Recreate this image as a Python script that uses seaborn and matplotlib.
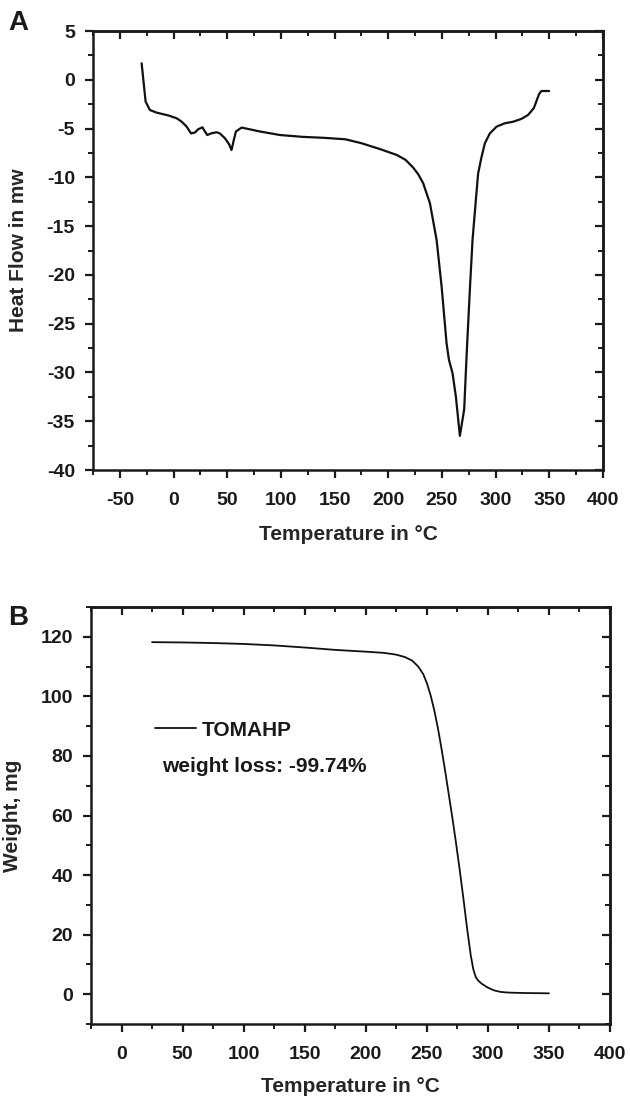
import numpy as np
import pandas as pd
import matplotlib
matplotlib.use("Agg")
import matplotlib.pyplot as plt
import seaborn as sns
from matplotlib.ticker import MultipleLocator
from matplotlib.lines import Line2D

# ---- Panel A: DSC ----
dsc_temp = [-29.7, -26, -22, -15.7, -5, 3, 7.6, 12.2, 16.3, 20, 23, 27, 28.3, 31.4,
            35.5, 40.1, 43.2, 47.9, 51.6, 54, 56.3, 58.1, 63.4, 80.5, 99, 120, 140,
            160, 175, 192.2, 207.8, 216, 223.2, 228, 232.5, 238.8, 245, 249.7, 254.3,
            256.5, 259.9, 263, 266.7, 270.7, 272.9, 276, 278.5, 281.6, 283.7, 286.9,
            290, 294.6, 300.9, 308.6, 316.3, 324.2, 330.3, 335.6, 340.5, 342.7, 349.8]
dsc_heat = [1.69, -2.24, -3.1, -3.37, -3.65, -3.95, -4.3, -4.8, -5.5, -5.4, -5.07,
            -4.87, -5.14, -5.66, -5.48, -5.38, -5.5, -6.0, -6.58, -7.2, -6.1, -5.3,
            -4.9, -5.3, -5.66, -5.85, -5.95, -6.1, -6.5, -7.1, -7.7, -8.2, -9.0, -9.7,
            -10.6, -12.65, -16.4, -21.2, -27.0, -28.7, -30.1, -32.5, -36.5, -33.8,
            -28.4, -21.5, -16.4, -12.3, -9.6, -7.9, -6.5, -5.5, -4.8, -4.46, -4.3,
            -4.0, -3.6, -2.9, -1.45, -1.15, -1.15]

# ---- Panel B: TGA ----
tga_temp = [25, 50, 75, 100, 125, 150, 175, 200, 215, 225, 232, 238, 243, 247, 250,
            253, 256, 259, 262, 265, 268, 271, 274, 277, 280, 283, 286, 288, 290, 292,
            295, 300, 305, 310, 315, 320, 330, 340, 350]
tga_weight = [118.2, 118.1, 117.9, 117.6, 117.1, 116.4, 115.6, 115.0, 114.6, 114.0,
              113.2, 112.0, 110.0, 107.5, 104.5, 100.5, 95.5, 89.5, 82.5, 75, 67, 59,
              50.5, 41.5, 32, 22, 13, 8.5, 5.8, 4.6, 3.5, 2.2, 1.3, 0.8, 0.6, 0.5, 0.4,
              0.35, 0.3]
series_name = "TOMAHP"
annotation = "weight loss: -99.74%"

dfA = pd.DataFrame({"temp": dsc_temp, "heat": dsc_heat})
dfB = pd.DataFrame({"temp": tga_temp, "weight": tga_weight})

sns.set_style("ticks")
plt.rcParams.update({
    "font.family": ["Liberation Sans", "DejaVu Sans"],
    "font.weight": "bold",
    "axes.labelweight": "bold",
    "axes.linewidth": 1.8,
    "axes.unicode_minus": False,
    "axes.edgecolor": "#1a1a1a",
    "xtick.color": "#1a1a1a",
    "ytick.color": "#1a1a1a",
    "text.color": "#1a1a1a",
})

W, H = 630, 1099
fig = plt.figure(figsize=(W / 100, H / 100), dpi=100)


def rect(l, t, r, b):
    return [l / W, 1 - b / H, (r - l) / W, (b - t) / H]


def style_axes(ax, xmaj, xmin, ymaj, ymin):
    ax.xaxis.set_major_locator(MultipleLocator(xmaj))
    ax.xaxis.set_minor_locator(MultipleLocator(xmin))
    ax.yaxis.set_major_locator(MultipleLocator(ymaj))
    ax.yaxis.set_minor_locator(MultipleLocator(ymin))
    ax.tick_params(which="major", direction="out", length=6, width=1.6,
                   labelsize=14)
    ax.tick_params(axis="x", which="major", pad=10)
    ax.tick_params(axis="y", which="major", pad=7)
    ax.tick_params(which="minor", direction="out", length=3.5, width=1.4)
    for sp in ax.spines.values():
        sp.set_visible(True)
        sp.set_linewidth(1.8)
    top = ax.secondary_xaxis("top")
    top.xaxis.set_major_locator(MultipleLocator(xmaj))
    top.xaxis.set_minor_locator(MultipleLocator(xmin))
    top.tick_params(which="major", direction="in", length=6, width=1.6, labeltop=False)
    top.tick_params(which="minor", direction="in", length=3.5, width=1.4)
    right = ax.secondary_yaxis("right")
    right.yaxis.set_major_locator(MultipleLocator(ymaj))
    right.yaxis.set_minor_locator(MultipleLocator(ymin))
    right.tick_params(which="major", direction="in", length=6, width=1.6, labelright=False)
    right.tick_params(which="minor", direction="in", length=3.5, width=1.4)


# Panel A
axA = fig.add_axes(rect(93, 31, 603, 470))
sns.lineplot(data=dfA, x="temp", y="heat", ax=axA, color="#111111", linewidth=1.6,
             sort=False, estimator=None)
axA.set_xlim(-75, 400)
axA.set_ylim(-40, 5)
style_axes(axA, 50, 25, 5, 2.5)
axA.set_xlabel("Temperature in °C", fontsize=15, fontweight="bold")
axA.set_ylabel("Heat Flow in mw", fontsize=15, fontweight="bold")
axA.xaxis.set_label_coords(0.5, -0.125)
axA.yaxis.set_label_coords(-0.127, 0.5)

# Panel B
axB = fig.add_axes(rect(91, 607, 610, 1024))
sns.lineplot(data=dfB, x="temp", y="weight", ax=axB, color="#111111", linewidth=1.3,
             sort=False, estimator=None)
axB.set_xlim(-25, 400)
axB.set_ylim(-10, 130)
style_axes(axB, 50, 25, 20, 10)
axB.set_xlabel("Temperature in °C", fontsize=15, fontweight="bold")
axB.set_ylabel("Weight, mg", fontsize=15, fontweight="bold")
axB.xaxis.set_label_coords(0.5, -0.127)
axB.yaxis.set_label_coords(-0.133, 0.5)

handle = Line2D([], [], color="#111111", linewidth=1.3)
axB.legend([handle], [series_name], loc="center left", bbox_to_anchor=(27.4, 88.7),
           bbox_transform=axB.transData, frameon=False, fontsize=15,
           handlelength=1.95, handletextpad=0.3, borderpad=0, borderaxespad=0)
axB.text(33, 76.5, annotation, fontsize=15, fontweight="bold", va="center", ha="left")

fig.text(8 / W, 1 - 23 / H, "A", fontsize=20, fontweight="bold", va="center", ha="left")
fig.text(8 / W, 1 - 618 / H, "B", fontsize=20, fontweight="bold", va="center", ha="left")

fig.savefig("out.png", dpi=100)
